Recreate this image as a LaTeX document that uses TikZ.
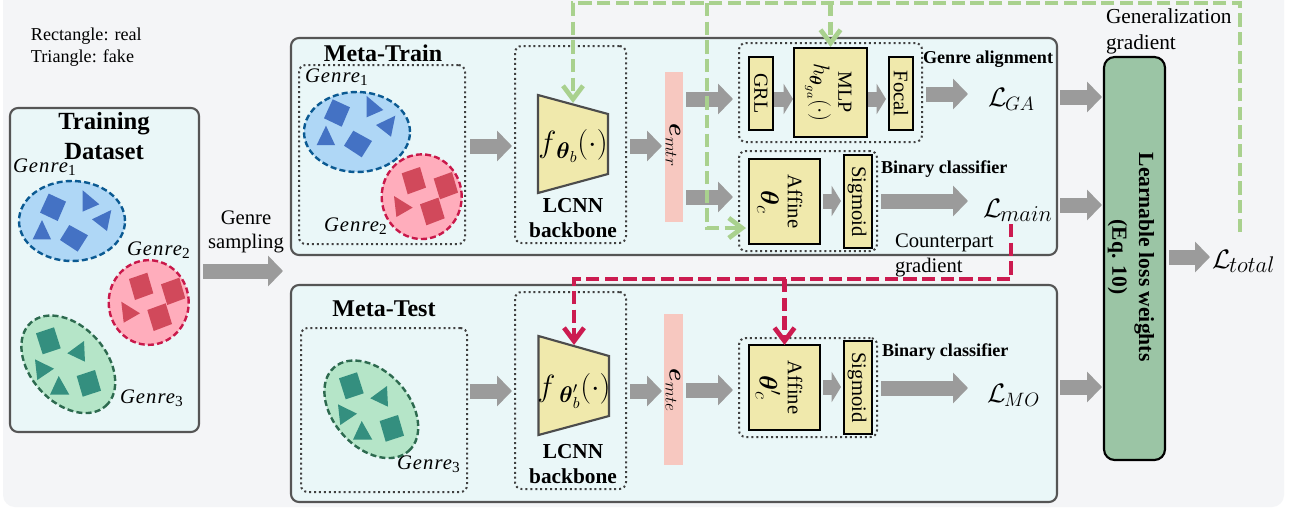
\documentclass[tikz,border=0pt]{standalone}
\usepackage{fix-cm}
\usepackage{amsmath}
\usepackage{fontspec}
\setmainfont{Liberation Serif}
\newfontfamily\gfont[LetterSpace=5]{Liberation Serif}
\usetikzlibrary{arrows.meta,shapes.geometric}
\definecolor{bgc}{HTML}{F4F5F7}
\definecolor{boxc}{HTML}{EAF7F8}
\definecolor{edgec}{HTML}{555555}
\definecolor{yel}{HTML}{F0E9AC}
\definecolor{grn}{HTML}{9BC5A5}
\definecolor{pinkc}{HTML}{F7C8C0}
\definecolor{grayc}{HTML}{9B9B9B}
\definecolor{gradg}{HTML}{A9D18E}
\definecolor{gradr}{HTML}{CC1B50}
\definecolor{eb}{HTML}{AFD7F6}
\definecolor{er}{HTML}{FFADBC}
\definecolor{eg}{HTML}{B5E5C8}
\definecolor{lb}{HTML}{0B5A92}
\definecolor{lr}{HTML}{C9184A}
\definecolor{lg}{HTML}{2D6A4F}
\definecolor{sb}{HTML}{4472C4}
\definecolor{sr}{HTML}{D1495B}
\definecolor{sg}{HTML}{348F7F}
\tikzset{
  pane/.style={draw=edgec,fill=boxc,line width=1.6pt,rounded corners=6pt},
  dotbox/.style={draw=black!75,line width=1.5pt,dash pattern=on 1.5pt off 2.2pt,rounded corners=5pt},
  yelbox/.style={draw=black,fill=yel,line width=1.6pt},
  trap/.style={draw=black!70,fill=yel,line width=1.6pt},
  barbox/.style={fill=pinkc},
  lossbox/.style={draw=black,fill=grn,line width=1.6pt,rounded corners=8pt},
  garrow/.style={draw=grayc,line width=11.25pt,-{Triangle[length=11.25pt,width=22.5pt]}},
  garrowb/.style={draw=grayc,line width=11.25pt,-{Triangle[length=7pt,width=22.5pt]}},
  ggrad/.style={draw=gradg,line width=3.5pt,dash pattern=on 10pt off 4pt},
  rgrad/.style={draw=gradr,line width=3.5pt,dash pattern=on 10pt off 4pt},
  gtip/.style={-{Straight Barb[length=10pt,width=15pt,line width=3.5pt]}},
  blobb/.style={ellipse,draw=lb,fill=eb,line width=1.8pt,dash pattern=on 4.5pt off 2.4pt,inner sep=0,minimum width=79.5pt,minimum height=60pt},
  blobr/.style={ellipse,draw=lr,fill=er,line width=1.8pt,dash pattern=on 4.5pt off 2.4pt,inner sep=0,minimum width=60pt,minimum height=63.5pt},
  blobg/.style={ellipse,draw=lg,fill=eg,line width=1.8pt,dash pattern=on 4.5pt off 2.4pt,inner sep=0,minimum width=84pt,minimum height=57pt,rotate=-48},
  txt/.style={inner sep=0,outer sep=0},
  rot/.style={inner sep=0,outer sep=0,rotate=-90},
  gl/.style={inner sep=0,outer sep=0,anchor=base west,font=\fontsize{15.5}{17}\selectfont},
  ll/.style={inner sep=0,outer sep=0,anchor=base west},
  bl/.style={inner sep=0,outer sep=0,anchor=base west,font=\fontsize{13.6}{16}\bfseries\selectfont},
}
\newcommand\pxbox[6][]{%
  \pgfmathsetmacro\pxcx{(#3+#5)/2}\pgfmathsetmacro\pxcy{(#4+#6)/2}%
  \node[#1,inner sep=0,outer sep=0,minimum width={(#5-#3)*0.75pt},minimum height={(#6-#4)*0.75pt}] (#2) at (\pxcx,\pxcy) {};}
\newcommand\gn[1]{{\gfont\itshape Genre}\raisebox{-2.5pt}{\fontsize{11.5}{12}\selectfont #1}}
\newcommand\lossL[2][15.5]{{\fontsize{20}{20}\selectfont$\mathcal{L}$}\kern-1pt\raisebox{-3.5pt}{\fontsize{#1}{16}\selectfont$#2$}}
\newcommand\sz[2]{{\fontsize{#1}{#1}\selectfont$#2$}}
\newcommand\low[3]{\raisebox{-#1pt}{\fontsize{#2}{#2}\selectfont$#3$}}
\newcommand\bluec[2]{\begin{scope}[shift={(#1,#2)}]
  \fill[sb] (42.7,99.3)--(60,107.3)--(51.7,126.7)--(34,118.3)--cycle;
  \fill[sb] (76.7,96)--(93.3,110)--(76.7,117.3)--cycle;
  \fill[sb] (86,125)--(105.3,115.7)--(101,136.7)--cycle;
  \fill[sb] (36,125.7)--(45,145)--(26.7,145)--cycle;
  \fill[sb] (63.3,130.7)--(82,141)--(71.7,157.3)--(54,145.7)--cycle;
\end{scope}}
\newcommand\redc[2]{\begin{scope}[shift={(#1,#2)}]
  \fill[sr] (129,29)--(147.3,22.7)--(153.3,43.3)--(135,50)--cycle;
  \fill[sr] (161,34.3)--(179.3,27.7)--(185.3,48.3)--(167.3,55)--cycle;
  \fill[sr] (147.3,60)--(165.7,53.3)--(172,74)--(153.7,81)--cycle;
  \fill[sr] (121.3,51.7)--(140,63.3)--(123.7,72.7)--cycle;
\end{scope}}
\newcommand\greenc[2]{\begin{scope}[shift={(#1,#2)}]
  \fill[sg] (36,83.3)--(54,77.3)--(60.7,98.3)--(42.7,104.3)--cycle;
  \fill[sg] (67.3,103.3)--(84,91)--(85,111.7)--cycle;
  \fill[sg] (35,109.3)--(54,118.7)--(37.3,130)--cycle;
  \fill[sg] (58.7,126)--(69.3,144.7)--(50,144.7)--cycle;
  \fill[sg] (76.7,126)--(95,120)--(101,140.7)--(82.7,146.7)--cycle;
\end{scope}}
\begin{document}
\begin{tikzpicture}[x=0.75pt,y=-0.75pt,>=Stealth]
\useasboundingbox (0,0) rectangle (1300,508);
\fill[white] (0,0) rectangle (1300,508);
\begin{scope}
\clip (0,0) rectangle (1300,508);
\fill[bgc,rounded corners=9pt] (3,-20) rectangle (1284,507);
\end{scope}

% panes
\pxbox[pane]{dset}{10}{108}{199}{432}
\pxbox[pane]{train}{291}{38}{1057}{255}
\pxbox[pane]{test}{291}{285}{1057}{502}
\pxbox[lossbox]{learn}{1104}{57}{1165}{460}

% legend
\node[txt,anchor=base west,font=\fontsize{13.6}{22}\selectfont] (legend) at (31,40) {Rectangle: real};
\node[txt,anchor=base west,font=\fontsize{13.6}{22}\selectfont] (legendb) at (31,62) {Triangle: fake};

% training dataset
\node[txt,font=\fontsize{18.5}{22.5}\bfseries\selectfont,align=center] (dsett) at (104,136) {Training\\Dataset};
\node[blobb] (d1) at (72,221) {};
\bluec{6}{94.3}
\node[blobr] (d2) at (148.7,302.5) {};
\redc{0}{250}
\node[blobg] (d3) at (68.3,364.3) {};
\greenc{0}{250}
\node[gl] (dg1) at (13,172) {\gn{1}};
\node[gl] (dg2) at (127,255) {\gn{2}};
\node[gl] (dg3) at (120,403) {\gn{3}};
\node[txt,font=\fontsize{15.5}{17.5}\selectfont,align=center] (samp) at (246,232) {Genre\\sampling};

% meta train
\node[txt,anchor=base,font=\fontsize{18}{22}\bfseries\selectfont] (trt) at (383,61) {Meta-Train};
\pxbox[dotbox]{gtr}{299}{65}{465}{244}
\node[blobb] (t1) at (357,132) {};
\bluec{290}{0}
\node[blobr] (t2) at (421.7,196.7) {};
\redc{272.7}{144.3}
\node[gl] (tg1) at (305,82) {\gn{1}};
\node[gl] (tg2) at (324,231) {\gn{2}};

\pxbox[dotbox]{ltr}{515}{46}{626}{243}
\draw[trap] (538,95)--(608,114)--(608,174)--(538,193)--cycle;
\coordinate (ftop) at (573,103);
\node[txt] (ftr) at (573,146) {\sz{23}{f}\low{4.5}{17}{\boldsymbol{\theta}_{b}}\sz{23}{(\cdot)}};
\node[txt,font=\fontsize{16}{19}\bfseries\selectfont,align=center] (ltrt) at (573,218) {LCNN\\backbone};

\pxbox[barbox]{emtr}{665}{72}{683}{222}
\node[rot] (emtrt) at (673,145) {\sz{18}{\boldsymbol{e}}\low{3}{13}{mtr}};

\pxbox[dotbox]{dga}{739}{43}{922}{142}
\pxbox[yelbox]{grl}{749}{57}{773}{130}
\pxbox[yelbox]{mlp}{794}{48}{867}{137}
\pxbox[yelbox]{focal}{889}{57}{913}{130}
\node[rot,font=\fontsize{15}{16}\selectfont] (grlt) at (761,93.5) {GRL};
\node[rot,font=\fontsize{15}{16}\selectfont] (mlpt) at (845,92.5) {MLP};
\node[rot] (mlph) at (818,92.5) {\sz{17}{h}\low{3}{12.5}{\boldsymbol{\theta}_{ga}}\sz{17}{(\cdot)}};
\node[rot,font=\fontsize{15.5}{16}\selectfont] (focalt) at (901,93.5) {Focal};
\node[bl] (gat) at (923,63) {Genre alignment};

\pxbox[dotbox]{dbin}{739}{151}{877}{251}
\pxbox[yelbox]{aff}{749}{159}{820}{244}
\pxbox[yelbox]{sig}{844}{155}{872}{248}
\node[rot,font=\fontsize{15.5}{16}\selectfont] (afft) at (795,201.5) {Affine};
\node[rot] (afftt) at (768,201.5) {\sz{19}{\boldsymbol{\theta}}\low{3}{14}{c}};
\node[rot,font=\fontsize{15.5}{16}\selectfont] (sigt) at (857,201.5) {Sigmoid};
\node[bl] (bint) at (881,173) {Binary classifier};

\node[ll] (lga) at (988,106) {\lossL[14.5]{GA}};
\node[ll] (lmain) at (983,217) {\lossL[17]{main}};
\node[txt,anchor=base west,font=\fontsize{15.5}{19}\selectfont] (cp) at (895,247) {Counterpart};
\node[txt,anchor=base west,font=\fontsize{15.5}{19}\selectfont] (cpb) at (895,272) {gradient};

% meta test
\node[txt,anchor=base,font=\fontsize{18}{22}\bfseries\selectfont] (tet) at (384,316) {Meta-Test};
\pxbox[dotbox]{gte}{301}{328}{467}{492}
\node[blobg] (e3) at (371.3,409.3) {};
\greenc{303}{295}
\node[gl] (eg3) at (397,469) {\gn{3}};

\pxbox[dotbox]{lte}{515}{292}{626}{489}
\draw[trap] (538.5,336)--(609,356)--(609,416)--(538.5,435)--cycle;
\coordinate (ftopb) at (574,345);
\node[txt] (fte) at (574,391) {\sz{23}{f}\low{4.5}{17}{\,\boldsymbol{\theta}'_{b}}\sz{23}{(\cdot)}};
\node[txt,font=\fontsize{16}{19}\bfseries\selectfont,align=center] (ltet) at (573,464) {LCNN\\backbone};

\pxbox[barbox]{emte}{664}{314}{683}{465}
\node[rot] (emtet) at (673,390) {\sz{18}{\boldsymbol{e}}\low{3}{13}{mte}};

\pxbox[dotbox]{dbinb}{739}{338}{877}{437}
\pxbox[yelbox]{affb}{749}{345}{820}{430}
\pxbox[yelbox]{sigb}{844}{341}{872}{434}
\node[rot,font=\fontsize{15.5}{16}\selectfont] (afftb) at (795,387.5) {Affine};
\node[rot] (affttb) at (768,387.5) {\sz{19}{\boldsymbol{\theta}'}\kern-4pt\low{3}{14}{c}};
\node[rot,font=\fontsize{15.5}{16}\selectfont] (sigtb) at (857,387.5) {Sigmoid};
\node[bl] (bintb) at (882,356) {Binary classifier};
\node[ll] (lmo) at (987,402) {\lossL[14.5]{MO}};

% learnable
\node[rot,font=\fontsize{16.2}{20}\bfseries\selectfont,align=center] (learnt) at (1131,257) {Learnable loss weights\\(Eq. 10)};
\node[txt,anchor=base west,font=\fontsize{16}{19}\selectfont] (gg) at (1106,23) {Generalization};
\node[txt,anchor=base west,font=\fontsize{16}{19}\selectfont] (ggb) at (1106,49) {gradient};
\node[ll] (ltot) at (1212,268) {\lossL[17]{total}};

% block arrows
\draw[garrow] ([shift={(4,1)}]dset.east) -- ([shift={(-8,124.5)}]train.west);
\draw[garrow] ([shift={(5,-8.5)}]gtr.east) -- ([shift={(-3,1.5)}]ltr.west);
\draw[garrow] ([shift={(4,1.5)}]ltr.east) -- ([shift={(-3,-1)}]emtr.west);
\draw[garrow] ([shift={(3,-48)}]emtr.east) -- ([shift={(-6,6.5)}]dga.west);
\draw[garrow] ([shift={(3,50)}]emtr.east) -- ([shift={(-6,-4)}]dbin.west);
\draw[garrowb] ([shift={(1,5.5)}]grl.east) -- ([shift={(-1,6.5)}]mlp.west);
\draw[garrowb] ([shift={(1,6.5)}]mlp.east) -- ([shift={(-3,5.5)}]focal.west);
\draw[garrow] ([shift={(4,1.5)}]dga.east) -- ([shift={(-20,-12)}]lga.base west);
\draw[garrowb] ([shift={(3,-0.5)}]aff.east) -- ([shift={(-3,-0.5)}]sig.west);
\draw[garrow] ([shift={(4,0)}]dbin.east) -- ([shift={(-15,-16)}]lmain.base west);
\draw[garrow] ([shift={(3,-49.5)}]train.east) -- ([shift={(-2,-161.5)}]learn.west);
\draw[garrow] ([shift={(3,58.5)}]train.east) -- ([shift={(-2,-53.5)}]learn.west);
\draw[garrow] ([shift={(3,-6.5)}]test.east) -- ([shift={(-2,128.5)}]learn.west);
\draw[garrow] ([shift={(4,-1.5)}]learn.east) -- ([shift={(-2,-11)}]ltot.base west);
\draw[garrow] ([shift={(3,-19)}]gte.east) -- ([shift={(-3,0.5)}]lte.west);
\draw[garrow] ([shift={(4,0.5)}]lte.east) -- ([shift={(-2,1.5)}]emte.west);
\draw[garrow] ([shift={(3,0.5)}]emte.east) -- ([shift={(-6,2.5)}]dbinb.west);
\draw[garrowb] ([shift={(3,-0.5)}]affb.east) -- ([shift={(-3,-0.5)}]sigb.west);
\draw[garrow] ([shift={(4,0.5)}]dbinb.east) -- ([shift={(-19,-14)}]lmo.base west);

% gradients
\coordinate (gs) at (1240,232);
\coordinate (gc) at (1240,3);
\coordinate (gl) at (573,3);
\coordinate (gba) at (707,3);
\coordinate (gbb) at (830.5,3);
\draw[ggrad,gtip] (gs) -- (gc) -- (gl) -- (ftop);
\draw[ggrad,gtip] (gba) |- ([shift={(-3,26.5)}]aff.west);
\draw[ggrad,gtip] (gbb) -- ([yshift=0.75pt]mlp.north);
\coordinate (rs) at (1011,224);
\coordinate (rc) at (1011,279);
\coordinate (rl) at (574,279);
\coordinate (rb) at (784.5,279);
\draw[rgrad,gtip] (rs) -- (rc) -- (rl) -- (ftopb);
\draw[rgrad,gtip] (rb) -- (affb.north);
\end{tikzpicture}
\end{document}
